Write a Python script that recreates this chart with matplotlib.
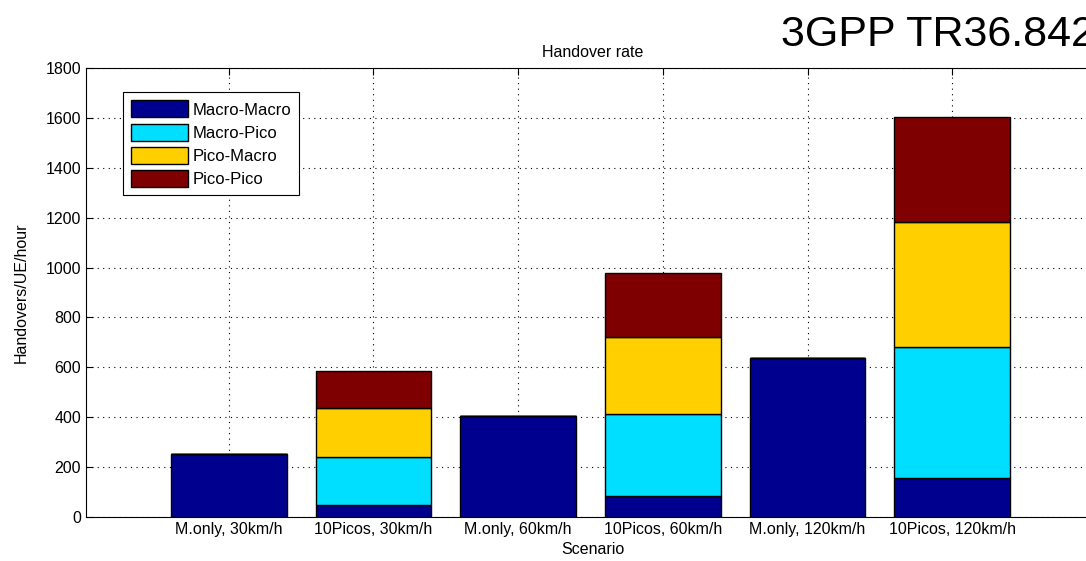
"""Gestapelde staafgrafiek: handover rate per scenario (3GPP TR36.842)."""
import matplotlib.pyplot as plt
import numpy as np

scenarios = ["M.only, 30km/h", "10Picos, 30km/h", "M.only, 60km/h",
             "10Picos, 60km/h", "M.only, 120km/h", "10Picos, 120km/h"]
series_names = ["Macro-Macro", "Macro-Pico", "Pico-Macro", "Pico-Pico"]
macro_macro = [252, 48, 405, 84, 638, 158]
macro_pico = [0, 192, 0, 329, 0, 525]
pico_macro = [0, 197, 0, 309, 0, 500]
pico_pico = [0, 148, 0, 256, 0, 422]
colors = ["#00008f", "#00dfff", "#ffcf00", "#7f0000"]

plt.rcParams["font.family"] = ["Liberation Sans", "DejaVu Sans"]

fig = plt.figure(figsize=(10.86, 5.61), dpi=100)
ax = fig.add_axes([0.0792, 0.0784, 0.9328, 0.8004])

x = np.arange(1, len(scenarios) + 1)
bottom = np.zeros(len(scenarios))
for name, vals, col in zip(series_names,
                           [macro_macro, macro_pico, pico_macro, pico_pico], colors):
    vals = np.array(vals, dtype=float)
    ax.bar(x, vals, width=0.8, bottom=bottom, color=col, edgecolor="black",
           linewidth=1.0, label=name, zorder=3)
    bottom += vals

# kleine verschuiving zodat de staven op dezelfde pixels vallen als het origineel
ax.set_xlim(0.014, 7.014)
ax.set_ylim(0, 1800)
ax.set_yticks(np.arange(0, 1801, 200))
ax.set_xticks(x)
ax.set_xticklabels(scenarios)
ax.tick_params(direction="in", length=5, labelsize=11.5, top=True, right=True)
ax.grid(True, linestyle=(0, (1, 4)), color="black", linewidth=0.8, zorder=0)
for s in ax.spines.values():
    s.set_linewidth(0.8)

ax.set_xlabel("Scenario", fontsize=11.5, labelpad=4)
ax.set_ylabel("Handovers/UE/hour", fontsize=11.5, labelpad=12)
ax.set_title("Handover rate", fontsize=11.5, pad=8)

leg = ax.legend(loc="upper left", bbox_to_anchor=(0.0365, 0.9465), fontsize=12,
                fancybox=False, edgecolor="black", framealpha=1,
                handlelength=3.4, handleheight=1.2, borderaxespad=0,
                labelspacing=0.36, handletextpad=0.25, borderpad=0.5)
leg.get_frame().set_linewidth(0.8)

# de titel rechtsboven loopt in het origineel over de rand van de figuur
fig.text(781 / 1086, 1 - 46 / 561, "3GPP TR36.842", fontsize=31, ha="left",
         va="baseline")

fig.savefig("out.png", dpi=100)
